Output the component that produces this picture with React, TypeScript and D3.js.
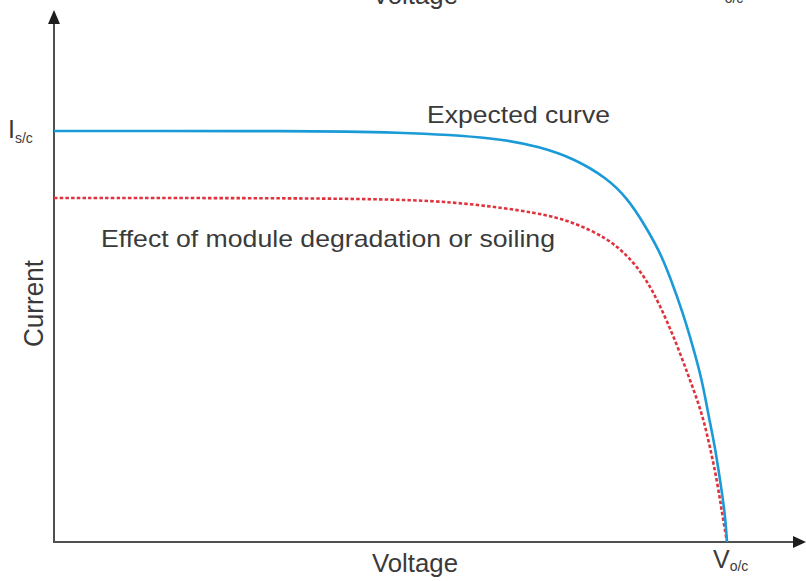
import React from "react";
import * as d3 from "d3";

// Normalised voltage (0..Voc) and current (0..Isc)
const expectedV = [0, 0.1426, 0.3358, 0.5141, 0.6627, 0.7221, 0.7712, 0.8217, 0.8514, 0.8752, 0.9004, 0.9153, 0.9346, 0.9495, 0.9629, 0.9718, 0.9822, 0.9896, 0.997, 1];
const expectedI = [1, 1, 1, 0.9976, 0.983, 0.9611, 0.9343, 0.8856, 0.837, 0.7786, 0.7056, 0.6448, 0.5572, 0.4745, 0.3942, 0.3139, 0.2311, 0.1509, 0.0706, 0];
const degradedV = [0, 0.2912, 0.5141, 0.6137, 0.7221, 0.7712, 0.8217, 0.8529, 0.8782, 0.9004, 0.9242, 0.945, 0.9629, 0.9747, 0.9851, 0.9926, 1];
const degradedI = [0.837, 0.837, 0.8345, 0.8248, 0.8005, 0.7786, 0.7397, 0.6959, 0.6448, 0.5766, 0.4866, 0.3942, 0.3139, 0.2311, 0.1509, 0.0706, 0];

const xTitle = "Voltage";
const yTitle = "Current";
const iscLabel = ["I", "s/c"];
const vocLabel = ["V", "o/c"];
const expectedLabel = "Expected curve";
const degradedLabel = "Effect of module degradation or soiling";

const W = 806;
const H = 581;
const FONT = "'Liberation Sans', Arial, Helvetica, sans-serif";
const TEXT = "#3a3a3a";

export default function App() {
  const x = d3.scaleLinear().domain([0, 1]).range([54, 727]);
  const y = d3.scaleLinear().domain([0, 1]).range([542, 131]);

  const line = d3
    .line<[number, number]>()
    .x((d) => x(d[0]))
    .y((d) => y(d[1]))
    .curve(d3.curveBasis);

  const expected = expectedV.map((v, i) => [v, expectedI[i]] as [number, number]);
  const degraded = degradedV.map((v, i) => [v, degradedI[i]] as [number, number]);

  const x0 = x(0);
  const y0 = y(0);
  const axisColor = "#505050";

  return (
    <svg
      width={W}
      height={H}
      viewBox={`0 0 ${W} ${H}`}
      style={{ position: "absolute", left: 0, top: 0, background: "#fff" }}
    >
      <rect x={0} y={0} width={W} height={H} fill="#fff" />

      {/* cropped duplicate labels at top */}
      <text x={372} y={4} fontFamily={FONT} fontSize={25} fill={TEXT} textLength={86} lengthAdjust="spacingAndGlyphs">
        {xTitle}
      </text>
      <text x={708} y={0} fontFamily={FONT} fontSize={25} fill={TEXT}>
        {vocLabel[0]}
        <tspan fontSize={14} dy={3}>{vocLabel[1]}</tspan>
      </text>

      {/* axes */}
      <line x1={x0} y1={y0} x2={x0} y2={20} stroke={axisColor} strokeWidth={2} />
      <line x1={x0 - 1} y1={y0} x2={797} y2={y0} stroke={axisColor} strokeWidth={2} />
      <path d={`M${x0},10 L${x0 - 6},24 L${x0 + 6},24 Z`} fill="#1e1e1e" />
      <path d={`M806,${y0} L793,${y0 - 6} L793,${y0 + 6} Z`} fill="#1e1e1e" />

      {/* curves */}
      <path d={line(degraded) || ""} fill="none" stroke="#e0323c" strokeWidth={2.6} strokeDasharray="3.5,2.2" />
      <path d={line(expected) || ""} fill="none" stroke="#1b9ad8" strokeWidth={2.6} />

      {/* annotations */}
      <text x={427} y={123} fontFamily={FONT} fontSize={24} fill={TEXT} textLength={183} lengthAdjust="spacingAndGlyphs">
        {expectedLabel}
      </text>
      <text x={101} y={247} fontFamily={FONT} fontSize={24} fill={TEXT} textLength={454} lengthAdjust="spacingAndGlyphs">
        {degradedLabel}
      </text>

      {/* axis labels */}
      <text x={372} y={572} fontFamily={FONT} fontSize={25} fill={TEXT} textLength={86} lengthAdjust="spacingAndGlyphs">
        {xTitle}
      </text>
      <text
        transform={`translate(43,${(260 + 347) / 2}) scale(1.12,1) rotate(-90)`}
        textAnchor="middle"
        fontFamily={FONT}
        fontSize={25}
        fill={TEXT}
        textLength={87}
        lengthAdjust="spacingAndGlyphs"
      >
        {yTitle}
      </text>
      <text x={x(1) - 14} y={568} fontFamily={FONT} fontSize={25} fill={TEXT}>
        {vocLabel[0]}
        <tspan fontSize={14} dy={3}>{vocLabel[1]}</tspan>
      </text>
      <text x={8} y={y(1) + 7} fontFamily={FONT} fontSize={25} fill={TEXT}>
        {iscLabel[0]}
        <tspan fontSize={14} dy={5}>{iscLabel[1]}</tspan>
      </text>
    </svg>
  );
}
